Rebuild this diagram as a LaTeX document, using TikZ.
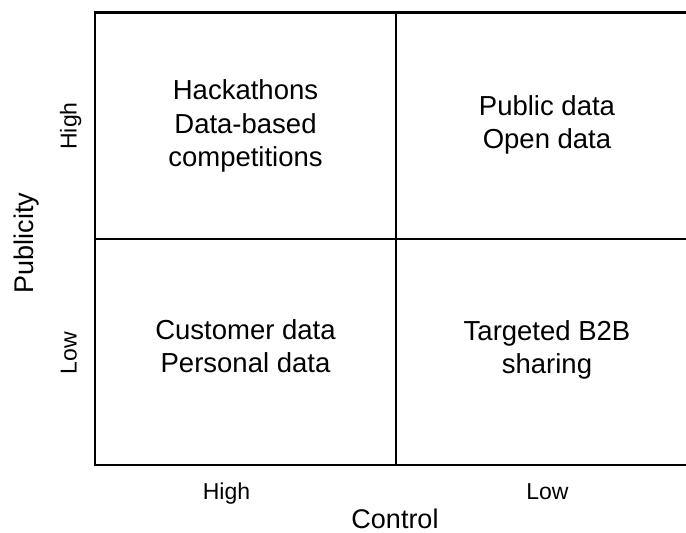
\documentclass[tikz,border=0pt]{standalone}
\usepackage{fontspec}
\setmainfont{Liberation Sans}
\begin{document}
\begin{tikzpicture}[x=1pt,y=-1pt,
  gridline/.style={line width=2.4pt,black},
  quadtext/.style={align=center,inner sep=0pt,font=\fontsize{27.5}{33.5}\selectfont},
  ticktext/.style={inner sep=0pt,font=\fontsize{23}{26}\selectfont},
  axistext/.style={inner sep=0pt,font=\fontsize{27}{30}\selectfont}]
\useasboundingbox (0,0) rectangle (686,533);
\coordinate (tl) at (95,12.5);
\coordinate (tr) at (700,12.5);
\coordinate (bl) at (95,465);
\coordinate (br) at (700,465);
\coordinate (mt) at (396,12.5);
\coordinate (mb) at (396,465);
\coordinate (ml) at (95,239);
\coordinate (mr) at (700,239);
\draw[gridline] (tr) -- (tl) -- (bl) -- (br);
\draw[gridline] (mt) -- (mb);
\draw[gridline] (ml) -- (mr);
\node[quadtext] (q1) at (245.5,126) {Hackathons\\Data-based\\competitions};
\node[quadtext] (q2) at (547,125) {Public data\\Open data};
\node[quadtext] (q3) at (245.5,346) {Customer data\\Personal data};
\node[quadtext] (q4) at (547,350) {Targeted B2B\\sharing};
\node[ticktext,rotate=90,anchor=base] (yh) at (76.5,126) {High};
\node[ticktext,rotate=90,anchor=base] (yl) at (76.5,353) {Low};
\node[axistext,rotate=90] (yt) at (27,243) {Publicity};
\node[ticktext,anchor=base] (xh) at (226.5,499) {High};
\node[ticktext,anchor=base] (xl) at (547.5,499) {Low};
\node[axistext] (xt) at (395,519) {Control};
\end{tikzpicture}
\end{document}
